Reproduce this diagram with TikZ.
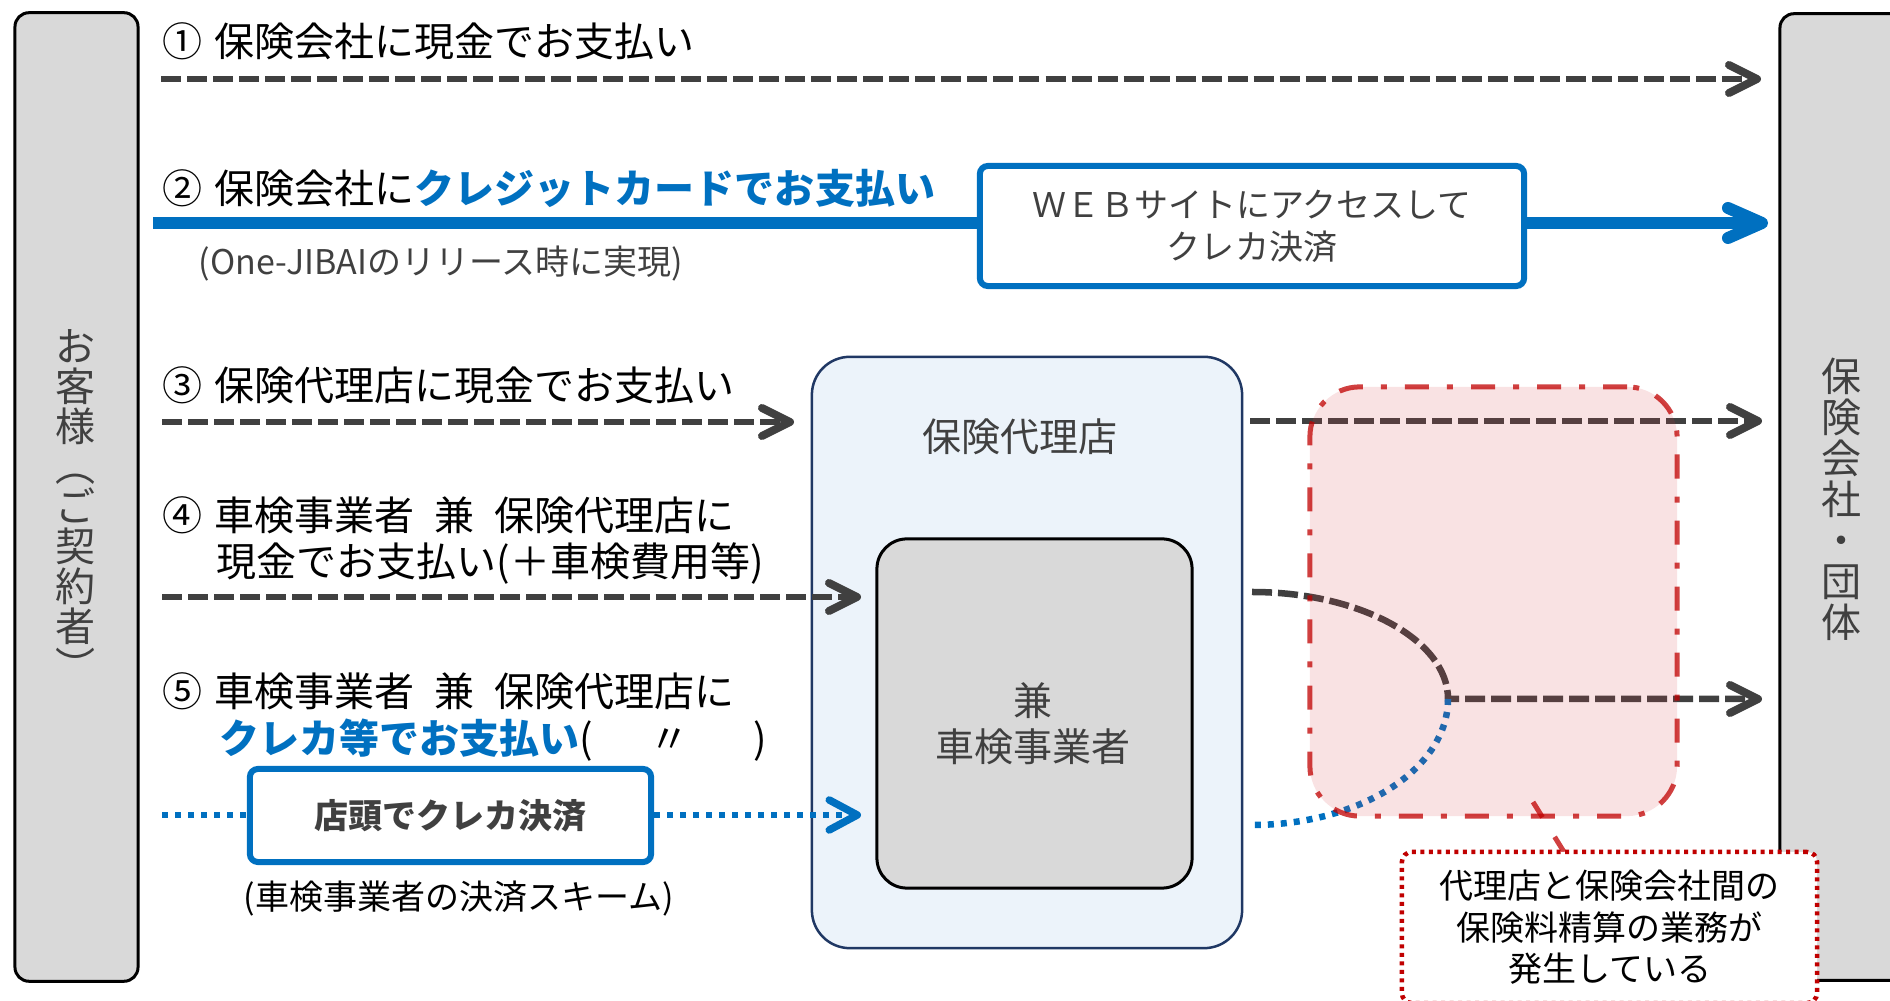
\documentclass[tikz,border=0pt]{standalone}
\usepackage{fontspec}
\setmainfont{Noto Sans CJK JP}
\usetikzlibrary{arrows.meta}
\definecolor{dg}{RGB}{64,64,64}
\definecolor{cb}{RGB}{0,112,192}
\definecolor{navy}{RGB}{32,56,100}
\definecolor{lb}{RGB}{236,243,250}
\definecolor{gf}{RGB}{217,217,217}
\definecolor{cr}{RGB}{192,0,0}
\definecolor{pk}{RGB}{217,60,70}
\newcommand\fmain{\fontsize{11.38pt}{13pt}\selectfont}
\newcommand\fsm{\fontsize{9.67pt}{11.95pt}\selectfont}
\newcommand\fnote{\fontsize{9.67pt}{11.8pt}\selectfont}
\newcommand\fag{\fontsize{11.1pt}{13.09pt}\selectfont}
\newcommand\fvl{\fontsize{11.38pt}{11.38pt}\selectfont}
\newcommand\fvr{\fontsize{11.38pt}{11.67pt}\selectfont}
\lineskiplimit=-100pt
\begin{document}
\begin{tikzpicture}[x=0.01cm, y=-0.01cm,
  lm/.style={anchor=west, inner sep=0pt, font=\fmain, text height=8.65pt, text depth=0pt},
  ls/.style={anchor=west, inner sep=0pt, font=\fsm, text height=7.35pt, text depth=0pt},
  sidebox/.style={draw=black, line width=0.03cm, fill=gf, rounded corners=0.14cm, inner sep=0pt},
  vlab/.style={anchor=north, inner sep=0pt, align=center, text=dg},
  agbox/.style={draw=navy, line width=0.025cm, fill=lb, rounded corners=0.38cm, inner sep=0pt},
  inbox/.style={draw=black, line width=0.03cm, fill=gf, rounded corners=0.3cm, inner sep=0pt},
  bluebox/.style={draw=cb, line width=0.06cm, fill=white, rounded corners=0.08cm, inner sep=0pt, text=dg, align=center},
  redbox/.style={draw=cr, draw opacity=0.75, fill=pk, fill opacity=0.15, line width=0.05cm,
    dash pattern=on 0.24cm off 0.18cm on 0.06cm off 0.18cm, rounded corners=0.5cm, inner sep=0pt},
  notebox/.style={draw=cr, fill=white, line width=0.045cm, dash pattern=on 0.04cm off 0.045cm,
    rounded corners=0.1cm, inner sep=0pt, align=center, font=\fnote},
  darr/.style={draw=dg, line width=0.065cm, dash pattern=on 0.2cm off 0.06cm,
    -{Straight Barb[length=0.28cm, width=0.28cm, line width=0.08cm, round]}},
  bline/.style={draw=cb, line width=0.12cm},
  barr/.style={bline, -{Straight Barb[length=0.34cm, width=0.3cm, line width=0.12cm, round]}},
  bdot/.style={draw=cb, line width=0.065cm, dash pattern=on 0.06cm off 0.07cm},
  bdotarr/.style={bdot, -{Straight Barb[length=0.28cm, width=0.3cm, line width=0.075cm, round]}},
  redline/.style={draw=cr, draw opacity=0.75, line width=0.05cm, dash pattern=on 0.18cm off 0.23cm}
]
\useasboundingbox (0,0) rectangle (1890,1001);
\clip (0,0) rectangle (1890,1001);

% side boxes
\node[sidebox, minimum width=1.23cm, minimum height=9.68cm] (cust) at (76.5,497) {};
\node[vlab, font=\fvl] (custl) at (76,329) {お\\客\\様\\︵\\ご\\契\\約\\者\\︶};
\node[sidebox, minimum width=1.30cm, minimum height=9.66cm] (ins) at (1845,497) {};
\node[vlab, font=\fvr] (insl) at (1841,357) {保\\険\\会\\社\\・\\団\\体};

% agency boxes
\node[agbox, minimum width=4.30cm, minimum height=5.91cm] (agency) at (1027,652.5) {};
\node[inner sep=0pt, font=\fag, text=dg] (agl) at (1020,437) {保険代理店};
\node[inbox, minimum width=3.15cm, minimum height=3.49cm] (inner) at (1034.5,713.5) {};
\node[vlab, font=\fag] (innl) at (1033,682) {兼\\車検事業者};

% labels
\node[lm] (t1) at (162,41) {①\hspace{0.3em}保険会社に現金でお支払い};
\node[lm] (t2) at (162,188) {②\hspace{0.3em}保険会社に{\color{cb}\bfseries クレジットカードでお支払い}};
\node[ls, text=dg] (t2s) at (198,262) {(One-JIBAIのリリース時に実現)};
\node[lm] (t3) at (162,385) {③\hspace{0.3em}保険代理店に現金でお支払い};
\node[lm] (t4a) at (162,515) {④\hspace{0.3em}車検事業者\hspace{0.5em}兼\hspace{0.5em}保険代理店に};
\node[lm] (t4b) at (216,561) {現金でお支払い(＋車検費用等)};
\node[lm] (t5a) at (162,691) {⑤\hspace{0.3em}車検事業者\hspace{0.5em}兼\hspace{0.5em}保険代理店に};
\node[lm] (t5b) at (219,738) {{\color{cb}\bfseries クレカ等でお支払い}(\hspace{1.4em}〃\hspace{1.6em})};
\node[ls, anchor=center] (t5s) at (459,897) {(車検事業者の決済スキーム)};

% blue boxes
\node[bluebox, minimum width=5.44cm, minimum height=1.20cm, font=\fsm] (web) at (1252,226) {ＷＥＢサイトにアクセスして\\クレカ決済};
\node[bluebox, minimum width=4.01cm, minimum height=0.93cm, font=\fsm\bfseries] (shop) at (450.5,815.5) {店頭でクレカ決済};

% coordinates
\coordinate (a1s) at (161,79);   \coordinate (a1e) at (1761,79);
\coordinate (a2s) at (153,223);  \coordinate (a2e) at (1768,223);
\coordinate (a3s) at (162,422);  \coordinate (a3e) at (794,422);
\coordinate (a3bs) at (1250,421); \coordinate (a3be) at (1762,421);
\coordinate (a4s) at (162,597);  \coordinate (a4e) at (861,597);
\coordinate (a5s) at (162,815);  \coordinate (a5e) at (861,815);
\coordinate (c6s) at (1252,592); \coordinate (c6m) at (1448,699); \coordinate (c6e) at (1762,699);
\coordinate (c7e) at (1252,825);
\coordinate (r1s) at (1533,802); \coordinate (r1e) at (1564,852);

% connectors
\draw[darr] (a1s) -- (a1e);
\draw[bline] (a2s) -- (web.west |- a2s);
\draw[barr] (web.east |- a2s) -- (a2e);
\draw[darr] (a3s) -- (a3e);
\draw[darr] (a3bs) -- (a3be);
\draw[darr] (a4s) -- (a4e);
\draw[bdot] (a5s) -- (shop.west |- a5s);
\draw[bdotarr] (shop.east |- a5s) -- (a5e);
\draw[darr] (c6s) .. controls (1360,592) and (1448,640) .. (c6m) -- (c6e);
\draw[bdot] (c6m) .. controls (1448,769) and (1360,825) .. (c7e);

% settlement area
\node[redbox, minimum width=3.67cm, minimum height=4.29cm] (settle) at (1493.5,601.5) {};
\draw[redline] (r1s) -- (r1e);
\node[notebox, minimum width=4.15cm, minimum height=1.51cm] (note) at (1609.5,927.5) {代理店と保険会社間の\\保険料精算の業務が\\発生している};
\end{tikzpicture}
\end{document}
